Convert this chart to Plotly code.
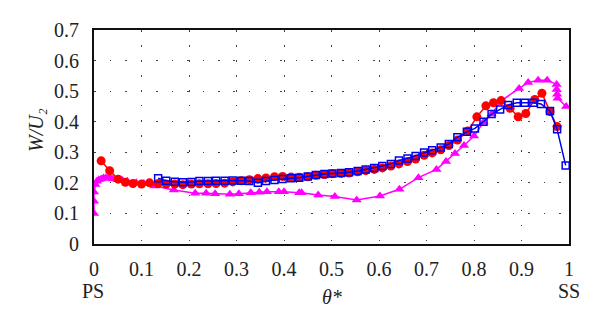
import plotly.graph_objects as go

# Red series (filled circles)
red_x = [0.015, 0.033, 0.051, 0.066, 0.082, 0.100, 0.117, 0.135, 0.152, 0.170,
         0.187, 0.205, 0.222, 0.240, 0.257, 0.275, 0.292, 0.310, 0.327, 0.345,
         0.362, 0.380, 0.397, 0.415, 0.432, 0.450, 0.467, 0.485, 0.502, 0.520,
         0.537, 0.555, 0.572, 0.590, 0.607, 0.625, 0.642, 0.660, 0.677, 0.695,
         0.712, 0.730, 0.747, 0.765, 0.787, 0.806, 0.825, 0.841, 0.857, 0.876,
         0.893, 0.909, 0.928, 0.943, 0.960, 0.975]
red_y = [0.272, 0.240, 0.212, 0.202, 0.198, 0.196, 0.200, 0.198, 0.196, 0.196,
         0.194, 0.196, 0.197, 0.197, 0.198, 0.199, 0.203, 0.207, 0.210, 0.214,
         0.216, 0.220, 0.221, 0.219, 0.218, 0.220, 0.225, 0.227, 0.230, 0.231,
         0.232, 0.236, 0.240, 0.244, 0.249, 0.255, 0.262, 0.270, 0.278, 0.290,
         0.298, 0.308, 0.322, 0.340, 0.370, 0.416, 0.452, 0.462, 0.469, 0.444,
         0.416, 0.427, 0.473, 0.493, 0.433, 0.384]

# Blue series (open squares)
blue_x = [0.135, 0.152, 0.170, 0.187, 0.205, 0.222, 0.240, 0.257, 0.275, 0.292,
          0.310, 0.327, 0.345, 0.362, 0.380, 0.397, 0.415, 0.432, 0.450, 0.467,
          0.485, 0.502, 0.520, 0.537, 0.555, 0.572, 0.590, 0.607, 0.625, 0.642,
          0.660, 0.677, 0.695, 0.712, 0.730, 0.747, 0.765, 0.785, 0.802, 0.820,
          0.837, 0.855, 0.872, 0.890, 0.907, 0.925, 0.941, 0.960, 0.975, 0.993]
blue_y = [0.215, 0.207, 0.204, 0.202, 0.203, 0.206, 0.206, 0.207, 0.207, 0.208,
          0.207, 0.206, 0.200, 0.206, 0.209, 0.213, 0.215, 0.217, 0.221, 0.226,
          0.229, 0.231, 0.232, 0.235, 0.239, 0.244, 0.249, 0.255, 0.262, 0.273,
          0.280, 0.288, 0.299, 0.307, 0.316, 0.327, 0.349, 0.367, 0.378, 0.400,
          0.425, 0.440, 0.455, 0.462, 0.462, 0.462, 0.458, 0.435, 0.375, 0.257]

# Magenta series (filled triangles)
mag_x = [0.000, 0.000, 0.000, 0.003, 0.006, 0.010, 0.015, 0.020, 0.025, 0.030,
         0.035, 0.040, 0.050, 0.060, 0.070, 0.089, 0.105, 0.128, 0.168, 0.213,
         0.236, 0.255, 0.286, 0.305, 0.330, 0.348, 0.364, 0.389, 0.400, 0.432,
         0.437, 0.472, 0.507, 0.553, 0.602, 0.643, 0.683, 0.721, 0.741, 0.760,
         0.779, 0.800, 0.820, 0.837, 0.858, 0.895, 0.914, 0.935, 0.954, 0.974,
         0.974, 0.975, 0.976, 0.994]
mag_y = [0.100, 0.140, 0.170, 0.195, 0.205, 0.210, 0.213, 0.216, 0.217, 0.216,
         0.215, 0.213, 0.210, 0.208, 0.205, 0.200, 0.198, 0.190, 0.177, 0.166,
         0.166, 0.164, 0.163, 0.164, 0.168, 0.169, 0.171, 0.171, 0.171, 0.168,
         0.168, 0.160, 0.155, 0.144, 0.157, 0.179, 0.217, 0.244, 0.270, 0.296,
         0.322, 0.353, 0.398, 0.425, 0.469, 0.509, 0.528, 0.536, 0.536, 0.522,
         0.505, 0.490, 0.477, 0.450]

x_ticks = [0, 0.1, 0.2, 0.3, 0.4, 0.5, 0.6, 0.7, 0.8, 0.9, 1]
x_tick_text = ["0", "0.1", "0.2", "0.3", "0.4", "0.5", "0.6", "0.7", "0.8", "0.9", "1"]
y_ticks = [0, 0.1, 0.2, 0.3, 0.4, 0.5, 0.6, 0.7]
y_tick_text = ["0", "0.1", "0.2", "0.3", "0.4", "0.5", "0.6", "0.7"]

FONT = "Liberation Serif"

L, R, T, B = 94, 31, 30, 86
pw, ph = 600 - L - R, 330 - T - B

def px_x(px):
    return (px - L) / pw

def px_y(py):
    return (330 - B - py) / ph

fig = go.Figure()
fig.add_trace(go.Scatter(
    x=mag_x, y=mag_y, mode="lines+markers",
    line=dict(color="#ff00ff", width=1.5),
    marker=dict(symbol="triangle-up", size=9, color="#ff00ff"),
))
fig.add_trace(go.Scatter(
    x=red_x, y=red_y, mode="lines+markers",
    line=dict(color="#ff0000", width=1.5),
    marker=dict(symbol="circle", size=9, color="#ff0000"),
))
fig.add_trace(go.Scatter(
    x=blue_x, y=blue_y, mode="lines+markers",
    line=dict(color="#0000ee", width=1.5),
    marker=dict(symbol="square-open", size=7, color="#0000ee", line=dict(width=1.5)),
))

fig.update_layout(
    width=600, height=330,
    margin=dict(l=L, r=R, t=T, b=B),
    plot_bgcolor="white",
    showlegend=False,
    xaxis=dict(range=[0, 1], tickvals=x_ticks, ticktext=x_tick_text,
               showline=True, linecolor="#111", linewidth=2, mirror=True,
               showgrid=True, gridcolor="#444", gridwidth=1, griddash="1.5px,13.5px",
               zeroline=False, ticks="outside", ticklen=6, tickcolor="white",
               tickfont=dict(family=FONT, size=20, color="#222")),
    yaxis=dict(range=[0, 0.7], tickvals=y_ticks, ticktext=y_tick_text,
               showline=True, linecolor="#111", linewidth=2, mirror=True,
               showgrid=True, gridcolor="#444", gridwidth=1, griddash="1.5px,14px",
               zeroline=False, ticks="outside", ticklen=9, tickcolor="white",
               tickfont=dict(family=FONT, size=20, color="#222")),
    annotations=[
        dict(text="W/U₂", x=px_x(36), y=px_y(130), xanchor="center", yanchor="middle",
             xref="paper", yref="paper", showarrow=False, textangle=-90,
             font=dict(family=FONT, size=20, color="#222", style="italic")),
        dict(text="θ*", x=0.5, y=px_y(297), xanchor="center", yanchor="middle",
             xref="paper", yref="paper", showarrow=False,
             font=dict(family=FONT, size=20, color="#222", style="italic")),
        dict(text="PS", x=px_x(93), y=px_y(291), xanchor="center", yanchor="middle",
             xref="paper", yref="paper", showarrow=False,
             font=dict(family=FONT, size=20, color="#222")),
        dict(text="SS", x=px_x(569), y=px_y(291), xanchor="center", yanchor="middle",
             xref="paper", yref="paper", showarrow=False,
             font=dict(family=FONT, size=20, color="#222")),
    ],
)

fig.write_html("out.html")
